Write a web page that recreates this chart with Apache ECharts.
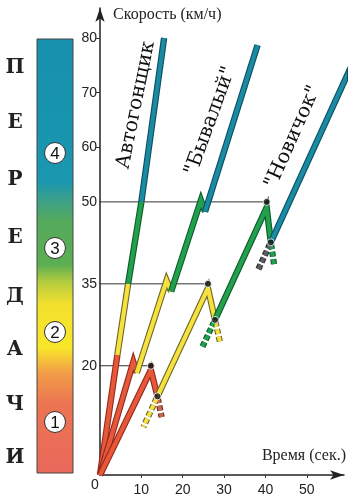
<!DOCTYPE html>
<html><head><meta charset="utf-8">
<script src="https://cdn.jsdelivr.net/npm/echarts@6/dist/echarts.min.js"></script>
<style>html,body{margin:0;padding:0;background:#fff}#c{width:360px;height:501px}</style>
</head><body><div id="c"></div>
<script>
// ---- data ----
const xTicks = [10, 20, 30, 40, 50];
const yTicks = [20, 35, 50, 60, 70, 80];
const yShortTicks = [60, 70, 80];
const shiftSpeeds = [20, 35, 50];
const gearNames = ['1', '2', '3', '4'];
const sideLetters = ['П', 'Е', 'Р', 'Е', 'Д', 'А', 'Ч', 'И'];
const driverNames = ['Автогонщик', '"Бывалый"', '"Новичок"'];

const racerPoints = [[0, 0], [4.2, 22], [6.8, 35], [10.0, 50], [15.5, 80]];

const expertGear1 = [[0, 0], [8.06, 20.7], [8.9, 18.7]];
const expertGear2 = [[8.9, 18.7], [16.1, 35.6], [17.2, 33.6]];
const expertGear3 = [[17.2, 33.6], [24.4, 50.3], [25.4, 48.2]];
const expertGear4 = [[25.4, 48.2], [38.1, 78.7]];

const noviceGear1 = [[0, 0], [12.3, 19.2], [13.9, 14.4]];
const noviceGear2 = [[13.9, 14.4], [26.1, 34.2], [27.8, 28.4]];
const noviceGear3 = [[27.8, 28.4], [40.3, 49.0], [41.3, 42.6]];
const noviceGear4 = [[41.3, 42.6], [62.0, 76.9]];

const noviceShiftPoints = [[12.3, 20], [26.1, 35], [40.3, 50]];
const noviceLows = [[13.9, 14.4], [27.8, 28.4], [41.3, 42.6]];

const dashOld1 = [[13.9, 14.4], [14.9, 10.6]];
const dashNew1 = [[13.9, 14.4], [10.5, 8.8]];
const dashOld2 = [[27.8, 28.4], [29.0, 24.4]];
const dashNew2 = [[27.8, 28.4], [24.6, 23.2]];
const dashOld3 = [[41.3, 42.6], [42.1, 38.5]];
const dashNew3 = [[41.3, 42.6], [38.3, 37.7]];

const refLineStartX = -5.3;

// ---- styles ----
const C = {
  red: ['#e9573b', '#8e2a1a'],
  yellow: ['#f5e23e', '#6f6428'],
  green: ['#23a04d', '#0c5a2a'],
  blue: ['#1b8aa3', '#0b4e5e'],
  dred: ['#c8664e', '#6e2c1c'],
  gray: ['#5a5e62', '#2a2c2e']
};

const series = [];
function band(data, col, z) {
  const base = { type: 'line', data: data, symbol: 'none', clip: false, silent: true, animation: false };
  series.push(Object.assign({}, base, { z: z, lineStyle: { color: col[1], width: 6.4, join: 'miter', miterLimit: 30, cap: 'butt' } }));
  series.push(Object.assign({}, base, { z: z + 0.5, lineStyle: { color: col[0], width: 4.2, join: 'miter', miterLimit: 30, cap: 'butt' } }));
}
function dashed(data, col, z) {
  const base = { type: 'line', data: data, symbol: 'none', clip: false, silent: true, animation: false };
  series.push(Object.assign({}, base, { z: z, lineStyle: { color: col[1], width: 6.2, type: [5, 2.5], dashOffset: -2 } }));
  series.push(Object.assign({}, base, { z: z + 0.5, lineStyle: { color: col[0], width: 4.0, type: [5, 2.5], dashOffset: -2 } }));
}

// reference lines
shiftSpeeds.forEach((v, i) => {
  series.push({ type: 'line', data: [[refLineStartX, v], [noviceShiftPoints[i][0], v]], symbol: 'none', clip: false, silent: true, animation: false, z: 1,
    lineStyle: { color: '#333', width: 1 } });
});

const gearCols = [C.red, C.yellow, C.green, C.blue];
for (let i = 0; i < 4; i++) band([racerPoints[i], racerPoints[i + 1]], gearCols[i], 10 + i);
[expertGear1, expertGear2, expertGear3, expertGear4].forEach((d, i) => band(d, gearCols[i], 20 + i));
dashed(dashOld1, C.dred, 29); dashed(dashNew1, C.yellow, 29);
dashed(dashOld2, C.yellow, 29); dashed(dashNew2, C.green, 29);
dashed(dashOld3, C.green, 29); dashed(dashNew3, C.gray, 29);
[noviceGear1, noviceGear2, noviceGear3, noviceGear4].forEach((d, i) => band(d, gearCols[i], 30 + i));
series.push({ type: 'scatter', data: noviceShiftPoints.concat(noviceLows), symbolSize: 7, clip: false, silent: true, animation: false, z: 40,
  itemStyle: { color: '#111', borderColor: '#fff', borderWidth: 1 } });

// ---- graphics ----
const barX = 37, barY = 39, barW = 36, barH = 434;
const graphic = [];
graphic.push({ type: 'rect', shape: { x: barX, y: barY, width: barW, height: barH },
  style: { stroke: '#444', lineWidth: 1, fill: new echarts.graphic.LinearGradient(0, 0, 0, 1, [
    { offset: 0, color: '#1690ad' }, { offset: 0.33, color: '#1b97b0' }, { offset: 0.37, color: '#3ba08a' },
    { offset: 0.42, color: '#55aa5c' }, { offset: 0.52, color: '#5cae52' }, { offset: 0.56, color: '#b4cc3e' },
    { offset: 0.61, color: '#f2e02e' }, { offset: 0.71, color: '#f9e72a' }, { offset: 0.77, color: '#f19c48' },
    { offset: 0.84, color: '#ec7552' }, { offset: 1, color: '#e8685a' }]) } });
const letterY = [68, 123, 180, 238, 297, 350, 405, 458];
sideLetters.forEach((ch, i) => graphic.push({ type: 'text', x: 15, y: letterY[i],
  style: { text: ch, font: 'bold 20px "DejaVu Serif"', fill: '#222', align: 'center', verticalAlign: 'middle' } }));
const circY = [422, 332, 248, 153];
gearNames.forEach((g, i) => {
  graphic.push({ type: 'circle', shape: { cx: 55, cy: circY[i], r: 10.5 }, style: { fill: '#fff', stroke: '#333', lineWidth: 1 }, z: 5 });
  graphic.push({ type: 'text', x: 55, y: circY[i] + 1, z: 6, style: { text: g, font: '17px "Liberation Sans"', fill: '#111', align: 'center', verticalAlign: 'middle' } });
});
const labPos = [[136, 105, 78.5], [210.5, 121, 70], [293, 137, 66]];
driverNames.forEach((n, i) => graphic.push({ type: 'text', x: labPos[i][0], y: labPos[i][1], rotation: labPos[i][2] * Math.PI / 180,
  style: { text: n, font: '20px "DejaVu Serif"', fill: '#111', align: 'center', verticalAlign: 'middle' } }));
graphic.push({ type: 'text', x: 95, y: 485, style: { text: '0', font: '14px "Liberation Sans"', fill: '#222', align: 'center', verticalAlign: 'middle' } });

const option = {
  animation: false,
  grid: { left: 100, right: 16, top: 8, bottom: 26 },
  xAxis: {
    type: 'value', min: 0, max: 59,
    name: 'Время (сек.)', nameLocation: 'end', nameGap: 0,
    nameTextStyle: { fontFamily: 'Liberation Serif', fontSize: 16, color: '#222', align: 'right', verticalAlign: 'bottom', padding: [0, -2, 11, 0] },
    axisLine: { symbol: ['none', 'arrow'], symbolSize: [7, 14], lineStyle: { color: '#222', width: 1.5 } },
    axisTick: { customValues: xTicks, length: 3, lineStyle: { color: '#333' } },
    axisLabel: { customValues: xTicks, fontFamily: 'Liberation Sans', fontSize: 14, color: '#222', margin: 8 },
    splitLine: { show: false }
  },
  yAxis: {
    type: 'value', min: 0, max: 85.5,
    name: 'Скорость (км/ч)', nameLocation: 'end', nameGap: -7,
    nameTextStyle: { fontFamily: 'Liberation Serif', fontSize: 16, color: '#222', align: 'left', verticalAlign: 'middle', padding: [0, 0, 0, 13] },
    axisLine: { symbol: ['none', 'arrow'], symbolSize: [7, 14], lineStyle: { color: '#222', width: 1.5 } },
    axisTick: { customValues: yShortTicks, length: 4, lineStyle: { color: '#333' } },
    axisLabel: { customValues: yTicks, fontFamily: 'Liberation Sans', fontSize: 14, color: '#222', margin: 3, padding: [0, 0, 10, 0] },
    splitLine: { show: false }
  },
  graphic: graphic,
  series: series
};
const chart = echarts.init(document.getElementById('c'), null, { renderer: 'canvas' });
chart.setOption(option);
</script></body></html>
